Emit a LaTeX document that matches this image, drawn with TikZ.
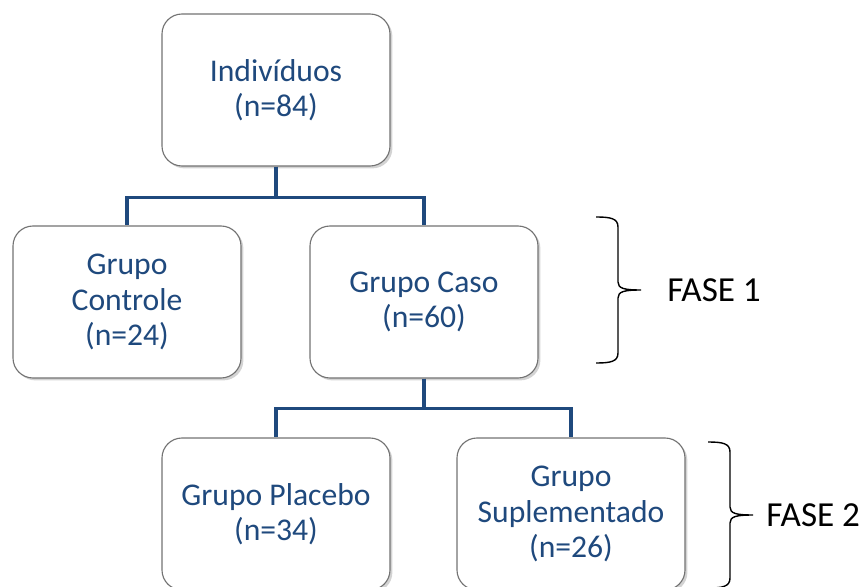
\documentclass[tikz,border=0pt]{standalone}
\usepackage{fontspec}
\setmainfont{Carlito}
\definecolor{ptblue}{RGB}{31,73,125}
\definecolor{ptgray}{RGB}{115,115,115}
\usetikzlibrary{positioning,shadows,calc}
\tikzset{
  grupo/.style={draw=ptgray,line width=0.8pt,fill=white,rounded corners=0.5cm,
    minimum width=5.7cm,minimum height=3.8cm,align=center,text=ptblue,
    font=\fontsize{22.5}{25.2}\selectfont,
    drop shadow={opacity=0.35,shadow xshift=0.06cm,shadow yshift=-0.06cm}},
  bus/.style={draw=ptblue,line width=2.6pt},
  chave/.style={draw=black,line width=1pt},
  fase/.style={inner sep=0pt,anchor=west,font=\fontsize{25}{28}\selectfont}
}
% brace: x of the ends, top y, bottom y, name of the tip
\newcommand{\chave}[4]{%
  \pgfmathsetmacro\cs{#1+0.55}
  \pgfmathsetmacro\ct{#1+1.125}
  \pgfmathsetmacro\cmid{(#2+#3)/2}
  \draw[chave] (#1,#2) .. controls (\cs-0.2,#2) and (\cs,#2-0.03) .. (\cs,#2-0.25)
    -- (\cs,\cmid+0.2) .. controls (\cs,\cmid+0.04) and (\cs+0.15,\cmid) .. (\ct,\cmid)
    .. controls (\cs+0.15,\cmid) and (\cs,\cmid-0.04) .. (\cs,\cmid-0.2)
    -- (\cs,#3+0.25) .. controls (\cs,#3+0.03) and (\cs-0.2,#3) .. (#1,#3);
  \coordinate (#4) at (\ct,\cmid);}
\begin{document}
\begin{tikzpicture}
  \useasboundingbox (0,0) rectangle (21.6,-14.675);
  % boxes
  \node[grupo] (ind) at (6.9,-2.25) {Indivíduos\\(n=84)};
  \node[grupo] (ctrl) at (3.175,-7.55) {Grupo\\Controle\\(n=24)};
  \node[grupo] (caso) at (10.6,-7.55) {Grupo Caso\\(n=60)};
  \node[grupo] (plac) at (6.9,-12.85) {Grupo Placebo\\(n=34)};
  \node[grupo] (supl) at (14.275,-12.85) {Grupo\\Suplementado\\(n=26)};
  % connectors
  \draw[bus] (ind.south) -- ++(0,-0.775) -| (ctrl.north);
  \draw[bus] (ind.south) -- ++(0,-0.775) -| (caso.north);
  \draw[bus] (caso.south) -- ++(0,-0.75) -| (plac.north);
  \draw[bus] (caso.south) -- ++(0,-0.75) -| (supl.north);
  % phases
  \chave{14.9}{-5.425}{-9.075}{f1}
  \chave{17.7}{-11.05}{-14.7}{f2}
  \node[fase,right=0.65cm of f1] (fase1) {FASE 1};
  \node[fase,right=0.33cm of f2] (fase2) {FASE 2};
\end{tikzpicture}
\end{document}
